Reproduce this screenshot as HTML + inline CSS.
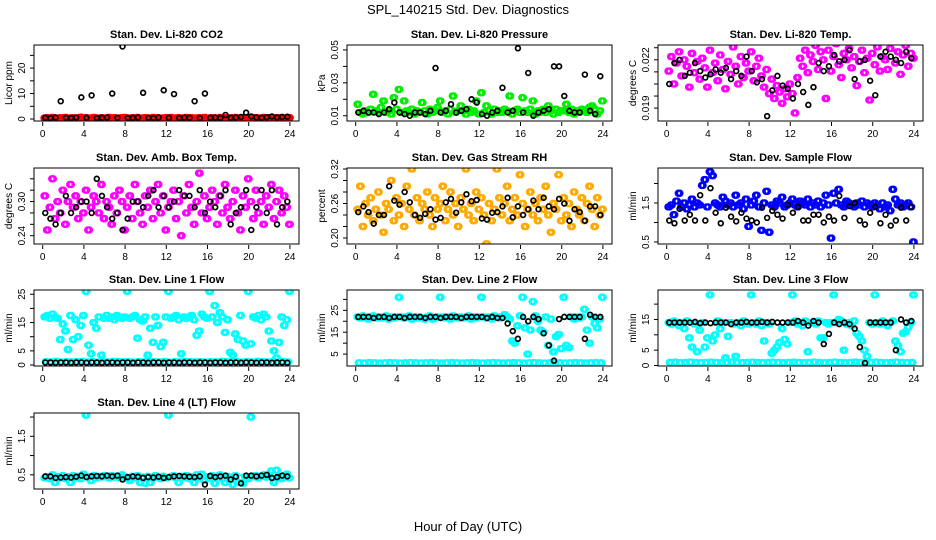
<!DOCTYPE html>
<html><head><meta charset="utf-8"><title>SPL_140215 Std. Dev. Diagnostics</title>
<style>
html,body{margin:0;padding:0;background:#fff;}
svg{display:block;font-family:"Liberation Sans",Arial,sans-serif;}
</style></head>
<body>
<svg id="chart" width="936" height="540" viewBox="0 0 936 540" xmlns="http://www.w3.org/2000/svg">
<text x="468" y="14" text-anchor="middle" font-size="13">SPL_140215  Std. Dev. Diagnostics</text>
<text x="468" y="531" text-anchor="middle" font-size="13">Hour of Day (UTC)</text>
</svg>
<script>
// ---- data arrays ----
const xTicks = [0,4,8,12,16,20,24];

const co2Red = [0.4,0.5,0.3,0.6,0.4,0.3,0.5,0.4,0.6,0.3,0.4,0.5,0.3,0.4,0.7,0.4,0.5,0.3,0.4,0.6,0.4,0.3,0.5,0.4,0.3,0.6,0.4,0.5,0.3,0.4,0.5,0.6,0.4,0.3,0.5,0.4,0.6,0.3,0.4,0.5,0.4,0.3,0.6,0.4,0.5,0.3,0.4,0.5,0.4,0.6,0.3,0.4,0.5,0.4,0.3,0.6,0.4,0.5,0.3,0.4,0.5,0.4,0.6,0.3,0.4,0.5,0.4,0.3,0.6,0.4,0.5,0.3,0.4,0.5,0.6,0.4,0.3,0.5,0.4,0.6,0.3,0.4,0.5,0.4,0.3,0.6,0.4,0.5,0.3,0.4,0.5,0.4,0.6,0.3,0.4,0.5];
const co2Black = [0.5,0.4,0.6,7.0,0.5,0.4,0.6,8.5,0.5,9.3,0.4,0.5,0.6,10.0,0.5,28.5,0.4,0.5,0.6,10.3,0.5,0.4,0.6,11.3,0.5,9.8,0.4,0.6,0.5,7.0,0.4,10.0,0.5,0.6,0.4,1.6,0.5,0.6,0.8,2.5,1.0,0.6,0.5,0.7,1.0,0.6,0.8,0.9];

const presGreen = [0.017,0.012,0.011,0.013,0.012,0.014,0.023,0.013,0.012,0.015,0.019,0.012,0.013,0.011,0.021,0.014,0.026,0.012,0.019,0.013,0.012,0.014,0.011,0.013,0.012,0.018,0.013,0.011,0.014,0.012,0.013,0.015,0.019,0.012,0.013,0.011,0.014,0.022,0.012,0.013,0.016,0.013,0.011,0.014,0.012,0.013,0.019,0.011,0.024,0.012,0.016,0.013,0.011,0.014,0.012,0.013,0.012,0.014,0.013,0.022,0.011,0.013,0.014,0.012,0.021,0.013,0.012,0.014,0.019,0.011,0.013,0.012,0.014,0.012,0.016,0.013,0.011,0.014,0.012,0.013,0.013,0.017,0.012,0.014,0.011,0.013,0.012,0.014,0.013,0.012,0.015,0.016,0.014,0.011,0.013,0.019];
const presBlack = [0.012,0.013,0.012,0.012,0.011,0.012,0.014,0.018,0.012,0.011,0.010,0.012,0.012,0.011,0.013,0.039,0.012,0.013,0.017,0.012,0.013,0.014,0.020,0.018,0.011,0.010,0.012,0.013,0.027,0.012,0.013,0.051,0.012,0.036,0.010,0.012,0.013,0.014,0.040,0.040,0.022,0.013,0.012,0.012,0.035,0.013,0.011,0.034];

const tempMagenta = [0.0213,0.0222,0.0205,0.0218,0.0225,0.0210,0.0220,0.0216,0.0203,0.0224,0.0212,0.0219,0.0208,0.0221,0.0215,0.0203,0.0226,0.0212,0.0218,0.0207,0.0223,0.0214,0.0202,0.0219,0.0211,0.0228,0.0216,0.0205,0.0222,0.0209,0.0218,0.0213,0.0225,0.0207,0.0216,0.0221,0.0210,0.0203,0.0214,0.0199,0.0208,0.0196,0.0204,0.0200,0.0193,0.0202,0.0197,0.0205,0.0199,0.0187,0.0209,0.0221,0.0216,0.0226,0.0212,0.0223,0.0219,0.0229,0.0214,0.0225,0.0220,0.0196,0.0226,0.0213,0.0222,0.0230,0.0217,0.0209,0.0224,0.0220,0.0227,0.0215,0.0222,0.0204,0.0219,0.0226,0.0212,0.0221,0.0195,0.0224,0.0217,0.0228,0.0213,0.0222,0.0220,0.0214,0.0227,0.0232,0.0218,0.0225,0.0211,0.0223,0.0229,0.0216,0.0224,0.0221];
const tempBlack = [0.0205,0.0218,0.0220,0.0210,0.0212,0.0218,0.0213,0.0209,0.0211,0.0214,0.0212,0.0215,0.0208,0.0213,0.0210,0.0222,0.0213,0.0206,0.0208,0.0185,0.0201,0.0210,0.0204,0.0202,0.0196,0.0205,0.0200,0.0192,0.0203,0.0218,0.0213,0.0216,0.0223,0.0219,0.0220,0.0226,0.0208,0.0219,0.0220,0.0207,0.0198,0.0222,0.0225,0.0222,0.0220,0.0218,0.0225,0.0221];

const ambMagenta = [0.31,0.25,0.29,0.34,0.27,0.30,0.28,0.32,0.26,0.30,0.33,0.29,0.31,0.27,0.30,0.28,0.32,0.25,0.29,0.31,0.30,0.28,0.33,0.27,0.30,0.29,0.26,0.31,0.28,0.32,0.30,0.25,0.29,0.31,0.27,0.33,0.30,0.28,0.26,0.31,0.29,0.32,0.27,0.30,0.33,0.28,0.31,0.25,0.29,0.30,0.32,0.27,0.30,0.24,0.31,0.28,0.33,0.29,0.26,0.30,0.35,0.28,0.31,0.27,0.29,0.32,0.30,0.26,0.31,0.28,0.33,0.29,0.27,0.30,0.32,0.28,0.25,0.31,0.29,0.34,0.30,0.27,0.32,0.28,0.30,0.26,0.31,0.29,0.33,0.27,0.30,0.32,0.28,0.31,0.29,0.26];
const ambBlack = [0.28,0.27,0.26,0.28,0.31,0.28,0.29,0.30,0.30,0.28,0.34,0.31,0.29,0.27,0.28,0.25,0.27,0.30,0.30,0.29,0.31,0.32,0.29,0.31,0.29,0.30,0.32,0.31,0.31,0.29,0.32,0.28,0.30,0.29,0.31,0.32,0.26,0.28,0.29,0.32,0.25,0.29,0.32,0.28,0.32,0.26,0.29,0.30];

const rhOrange = [0.25,0.29,0.22,0.26,0.24,0.27,0.23,0.25,0.28,0.24,0.21,0.26,0.25,0.30,0.23,0.27,0.24,0.26,0.22,0.29,0.25,0.32,0.24,0.27,0.23,0.26,0.25,0.28,0.24,0.22,0.27,0.25,0.26,0.29,0.23,0.25,0.28,0.24,0.26,0.22,0.27,0.25,0.32,0.24,0.26,0.23,0.28,0.25,0.27,0.24,0.19,0.26,0.23,0.25,0.32,0.27,0.24,0.26,0.29,0.23,0.25,0.27,0.24,0.31,0.26,0.22,0.25,0.28,0.24,0.26,0.23,0.27,0.25,0.29,0.24,0.21,0.26,0.25,0.31,0.23,0.27,0.24,0.26,0.22,0.28,0.25,0.24,0.27,0.23,0.26,0.29,0.25,0.22,0.27,0.24,0.25];
const rhBlack = [0.245,0.255,0.245,0.225,0.24,0.24,0.29,0.265,0.258,0.28,0.262,0.24,0.235,0.242,0.25,0.232,0.235,0.262,0.268,0.244,0.262,0.276,0.264,0.266,0.234,0.232,0.244,0.245,0.255,0.27,0.236,0.255,0.24,0.25,0.265,0.25,0.27,0.255,0.25,0.268,0.26,0.23,0.25,0.245,0.23,0.255,0.255,0.24];

const flowBlue = [1.40,1.45,1.20,1.55,1.75,1.40,1.50,1.35,1.45,1.60,1.40,1.50,1.45,1.95,2.10,1.40,2.30,2.20,1.50,1.45,1.40,1.65,1.55,1.45,1.50,1.40,1.70,1.45,1.50,1.35,1.60,0.90,1.45,1.55,1.70,1.40,0.80,1.50,1.80,0.75,1.45,1.40,1.55,1.50,1.65,1.40,1.45,1.50,1.60,1.45,1.40,1.55,1.50,1.45,1.60,1.40,1.50,1.45,1.55,1.40,1.50,1.70,1.45,0.60,1.75,1.50,1.85,1.45,1.40,1.55,1.50,1.45,1.40,1.50,1.45,1.55,1.40,1.50,1.45,1.40,1.50,1.45,1.35,1.50,1.40,1.45,1.30,1.85,1.60,1.45,1.50,1.40,1.45,1.50,1.40,0.50];
const flowBlack = [1.05,0.98,1.35,1.05,1.20,1.05,1.70,1.05,1.88,1.25,0.98,1.38,1.15,1.03,1.25,1.10,1.05,1.00,1.38,1.12,1.30,1.20,1.10,1.45,1.25,1.40,1.05,1.05,1.20,1.20,1.00,1.15,1.05,1.68,1.12,1.42,1.50,1.05,0.95,1.25,1.40,0.98,1.20,0.92,1.05,1.38,1.05,1.40];

const line1High = [17,17.5,16.5,18,17,16.5,9,14.5,12,5.5,17.5,9,16,10,14,17.5,26,7,4,15,13,17,3.5,16.5,17.5,16.5,17,16,17.5,17,16.5,17,26,16.5,17,17.5,9.5,16,15.5,17,3.5,13,8,17,14,6.5,8,17,26,16.5,17,17.5,16,4,17,16.5,17,17.5,16,10.5,12,18,17,16.5,26,17,21,15,18.5,17,11.5,16,4.5,3.5,11,9,17.5,8.5,7,26,7.5,17,16.5,17.5,16,18,17,12,8.5,5,2.5,8,17,14,16,26];
const line1Low = [1.2,1.1,1.3,1.0,1.2,1.1,1.2,1.3,1.1,1.2,1.0,1.2,1.1,1.3,1.2,1.1,1.2,1.0,1.2,1.1,1.3,1.2,1.1,1.2,1.0,1.2,1.1,1.3,1.2,1.1,1.2,1.0,1.2,1.1,1.3,1.2,1.1,1.2,1.0,1.2,1.1,1.3,1.2,1.1,1.2,1.0,1.2,1.1];
const line1Black = [0.9,0.9,0.8,0.9,0.9,0.8,0.9,0.9,0.8,0.9,0.9,0.8,0.9,0.9,0.8,0.9,0.9,0.8,0.9,0.9,0.8,0.9,0.9,0.8,0.9,0.9,0.8,0.9,0.9,0.8,0.9,0.9,0.8,0.9,0.9,0.8,0.9,0.9,0.8,0.9,0.9,0.8,0.9,0.9,0.8,0.9,0.9,0.8];

const line2High = [22,21.5,22.5,22,21,22,22.5,21.5,22,21.5,22,22.5,21,22,21.5,22,31,22,21.5,22,22.5,21,22,21.5,22,21.5,21,22,22.5,21,21.5,22,31,22,21.5,22,21,22.5,22,21.5,22,21.5,22,22.5,21,22,21.5,22,31,22,21.5,22,21,22.5,22,21.5,22,23,22,21,11,10,18,22.5,31,17,5,16,29,22.5,20,16,15,22,9,21,6,13,14,7.5,31,9,8,22,21,22,21.5,22,25.5,16,10,22,19,17,21,31];
const line2Low = [1.0,0.9,1.1,1.0,0.9,1.0,1.1,1.0,0.9,1.0,1.1,1.0,0.9,1.0,1.1,1.0,0.9,1.0,1.1,1.0,0.9,1.0,1.1,1.0,0.9,1.0,1.1,1.0,0.9,1.0,1.1,1.0,0.9,1.0,1.1,1.0,0.9,1.0,1.1,1.0,0.9,1.0,1.1,1.0,0.9,1.0,1.1,1.0];
const line2Black = [22,22,22,21.5,22,22,21.5,22,22,21.5,22,22,22,21.5,22,22,21.5,22,22,22,21.5,22,22,22,22,21.5,22,21.5,21.5,19,15.5,12,22,20,22,21,14.5,9,2,21,22,22,22,22,12,23,22,22];

const line3High = [14,13.5,14.5,14,13,14,12,14.5,9,6,13.5,4.5,11.5,14,6,9,23,8,10,14.5,12,14,2.5,9.5,14,13.5,3,14,13,14.5,14,13.5,23,14,13.5,14.5,13,8,14,13.5,4,5,6,7.5,12,8.5,7,14,23,14.5,13.5,14,13,14.5,4.5,14,14,13.5,14.5,9,9,14,13.5,14,23,14,15,14.5,5,13.5,14,13,14.5,10.5,9.5,8,5,3,14,13.5,23,14,13.5,14.5,14,13,14,14.5,8,6.5,4.5,10.5,11,12.5,14,23];
const line3Low = [1.0,1.1,0.9,1.0,1.1,1.0,0.9,1.0,1.1,1.0,0.9,1.0,1.1,1.0,0.9,1.0,1.1,1.0,0.9,1.0,1.1,1.0,0.9,1.0,1.1,1.0,0.9,1.0,1.1,1.0,0.9,1.0,1.1,1.0,0.9,1.0,1.1,1.0,0.9,1.0,1.1,1.0,0.9,1.0,1.1,1.0,0.9,1.0];
const line3Black = [14,14,14,14,14,14.2,13.8,14,13.8,14,14,14,13.5,14,14,14.2,14,14,14.2,14,14.2,14,14,14,14,14.5,14,13,14.5,14,7,10.3,14,13.5,14,13.5,12,6,0.8,14,14,14,14,14,5,15,14,14.5];

const line4Cyan = [0.42,0.45,0.40,0.50,0.30,0.45,0.42,0.48,0.40,0.45,0.30,0.48,0.42,0.46,0.40,0.52,2.05,0.45,0.35,0.48,0.42,0.46,0.44,0.48,0.45,0.42,0.48,0.44,0.46,0.42,0.50,0.45,0.40,0.35,0.46,0.42,0.48,0.30,0.44,0.28,0.46,0.30,0.42,0.48,0.44,0.40,0.46,0.42,2.05,0.45,0.48,0.42,0.30,0.46,0.44,0.48,0.40,0.45,0.30,0.50,0.42,0.52,0.35,0.45,0.42,0.48,0.28,0.45,0.50,0.40,0.30,0.46,0.44,0.25,0.48,0.30,0.42,0.28,0.45,0.40,2.00,0.45,0.48,0.42,0.46,0.50,0.44,0.48,0.60,0.30,0.62,0.45,0.40,0.48,0.52,0.42];
const line4Black = [0.46,0.46,0.42,0.43,0.44,0.43,0.45,0.48,0.44,0.46,0.47,0.46,0.48,0.46,0.48,0.38,0.44,0.46,0.45,0.42,0.44,0.43,0.45,0.42,0.44,0.46,0.47,0.46,0.45,0.44,0.46,0.25,0.47,0.44,0.46,0.48,0.38,0.45,0.28,0.48,0.48,0.46,0.48,0.50,0.42,0.44,0.48,0.46];

const panelTitles = ["Stan. Dev. Li-820 CO2","Stan. Dev. Li-820 Pressure","Stan. Dev. Li-820 Temp.","Stan. Dev. Amb. Box Temp.","Stan. Dev. Gas Stream RH","Stan. Dev. Sample Flow","Stan. Dev. Line 1 Flow","Stan. Dev. Line 2 Flow","Stan. Dev. Line 3 Flow","Stan. Dev. Line 4 (LT) Flow"];
const yTitles = ["Licor ppm","kPa","degrees C","degrees C","percent","ml/min","ml/min","ml/min","ml/min","ml/min"];
const yTicks = [[0,5,10,15,20,25],[0.01,0.02,0.03,0.04,0.05],[0.019,0.01975,0.0205,0.02125,0.022,0.02275],[0.24,0.26,0.28,0.30,0.32,0.34],[0.20,0.22,0.24,0.26,0.28,0.30,0.32],[0.5,1.0,1.5,2.0],[0,5,10,15,20,25],[5,10,15,20,25,30],[0,5,10,15,20],[0.5,1.0,1.5,2.0]];
const yLabels = [["0","10","20"],["0.01","0.03","0.05"],["0.019","0.022"],["0.24","0.30"],["0.20","0.26","0.32"],["0.5","1.5"],["0","5","15","25"],["5","15","25"],["0","5","15"],["0.5","1.5"]];
const yRanges = [[-0.78,29.07],[0.0068,0.053],[0.0182,0.02292],[0.2254,0.359],[0.1896,0.3217],[0.449,2.397],[-0.35,26.5],[-0.45,34.3],[-0.16,24.6],[0.132,2.105]];
const colorSeries = [[co2Red],[presGreen],[tempMagenta],[ambMagenta],[rhOrange],[flowBlue],[line1High,line1Low],[line2High,line2Low],[line3High,line3Low],[line4Cyan]];
const blackSeries = [co2Black,presBlack,tempBlack,ambBlack,rhBlack,flowBlack,line1Black,line2Black,line3Black,line4Black];
const seriesColors = ["#ff0000","#00ee00","#ff00ff","#ff00ff","#ffaa00","#0000ff","#00ffff","#00ffff","#00ffff","#00ffff"];

// ---- layout ----
const NS = "http://www.w3.org/2000/svg";
const svg = document.getElementById('chart');
const colLeft = [34,347,658];
const rowTop = [45,168,290,413];
const PW = 265, PH = 76;

function mk(tag, attrs, parent){
  const e = document.createElementNS(NS, tag);
  for (const k in attrs) e.setAttribute(k, attrs[k]);
  (parent||svg).appendChild(e);
  return e;
}

for (let p = 0; p < 10; p++) {
  const L = colLeft[p % 3], T = rowTop[Math.floor(p / 3)], B = T + PH;
  const [y0, y1] = yRanges[p];
  const xs = h => L + 8.7 + h * 10.3;
  const ys = v => B - (v - y0) / (y1 - y0) * PH;
  const g = mk('g', {});
  
  

  const title = mk('text', {x: L + PW / 2, y: T - 7, 'text-anchor': 'middle', 'font-size': 11, 'font-weight': 'bold'}, g);
  
  
  title.textContent = panelTitles[p];

  const clip = 'clip' + p;
  const cp = mk('clipPath', {id: clip}, g);
  mk('rect', {x: L, y: T, width: PW, height: PH}, cp);
  const sg = mk('g', {'clip-path': 'url(#' + clip + ')'}, g);
  colorSeries[p].forEach((arr, si) => {
    const step = 24 / arr.length;
    arr.forEach((v, i) => {
      const cx = xs(i * step + step / 2), cy = ys(v);
      const c = mk('circle', {cx: cx, cy: cy, r: 2.7, fill: 'none', stroke: seriesColors[p], 'stroke-width': 2}, sg);
      
      
      const c2 = mk('circle', {cx: cx + 1.6, cy: cy, r: 2.7, fill: 'none', stroke: seriesColors[p], 'stroke-width': 2}, sg);
      
      
    });
  });
  const bArr = blackSeries[p];
  bArr.forEach((v, i) => {
    const c = mk('circle', {cx: xs(0.25 + i * 0.5), cy: ys(v), r: 2.4, fill: 'none', stroke: '#000', 'stroke-width': 1.7}, sg);
    
    
  });

  const box = mk('rect', {x: L, y: T, width: PW, height: PH, fill: 'none', stroke: '#000', 'stroke-width': 1}, g);
  
  

  xTicks.forEach(t => {
    const X = xs(t);
    mk('line', {x1: X, x2: X, y1: B + 1, y2: B + 5, stroke: '#000'}, g);
    const tx = mk('text', {x: X, y: B + 16, 'text-anchor': 'middle', 'font-size': 10}, g);
    
    
    tx.textContent = t;
  });
  yTicks[p].forEach(t => {
    const Y = ys(t);
    mk('line', {x1: L - 4, x2: L, y1: Y, y2: Y, stroke: '#000'}, g);
  });
  yLabels[p].forEach(s => {
    const Y = ys(parseFloat(s));
    const tx = mk('text', {x: 0, y: 0, 'text-anchor': 'middle', 'font-size': 10, transform: 'translate(' + (L - 9) + ',' + Y + ') rotate(-90)'}, g);
    
    
    tx.textContent = s;
  });
  const yt = mk('text', {x: 0, y: 0, 'text-anchor': 'middle', 'font-size': 10, transform: 'translate(' + (L - 22) + ',' + (T + PH / 2) + ') rotate(-90)'}, g);
  
  
  yt.textContent = yTitles[p];
}
</script>
</body></html>
